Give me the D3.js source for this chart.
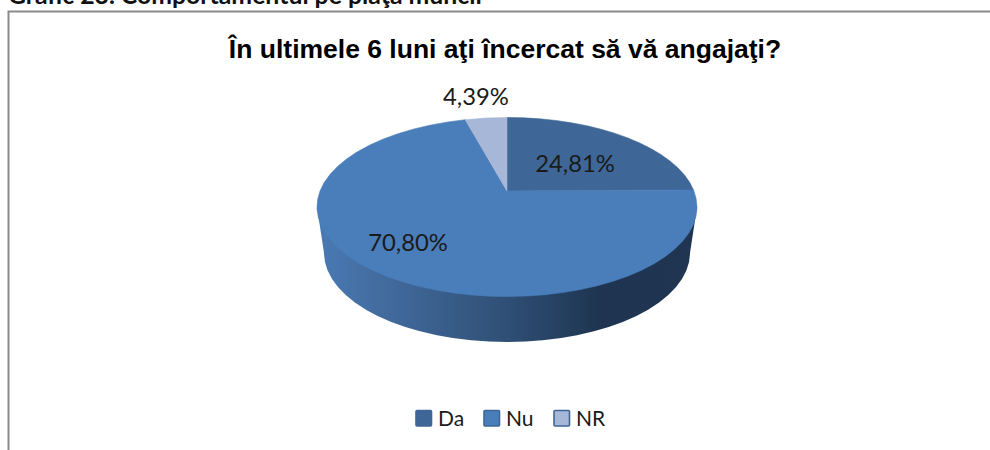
<!DOCTYPE html>
<html>
<head>
<meta charset="utf-8">
<script src="https://cdn.jsdelivr.net/npm/d3@7"></script>
<style>
html,body{margin:0;padding:0;background:#fff;overflow:hidden}
svg{display:block}
</style>
</head>
<body>
<svg id="c" width="990" height="450"></svg>
<script>
const categories = ["Da", "Nu", "NR"];
const values = [24.81, 70.80, 4.39];
const valueLabels = ["24,81%", "70,80%", "4,39%"];
const colors = ["#3e6797", "#4a7ebb", "#a7b7d7"];
const heading = "Grafic 23. Comportamentul pe piaţa muncii";
const chartTitle = "În ultimele 6 luni aţi încercat să vă angajaţi?";

const svg = d3.select("#c");
const body = "Lato, 'Open Sans', sans-serif";

// Frame and heading
svg.append("text").attr("x", 8).attr("y", 4).attr("font-family", body)
  .attr("font-weight", 700).attr("font-size", 24.8).attr("fill", "#111").text(heading);
svg.append("path").attr("d", "M8.5,450V11.5H990").attr("fill", "none")
  .attr("stroke", "#8a8a8a").attr("stroke-width", 2);

svg.append("text").attr("x", 505).attr("y", 57.5).attr("text-anchor", "middle")
  .attr("font-family", "'Liberation Sans', Arial, sans-serif").attr("font-weight", 700)
  .attr("font-size", 26.5).attr("fill", "#000").text(chartTitle);

// Pie geometry (perspective ellipse with off-centre apex)
const face = {cx: 507, cy: 207, rx: 190, ry: 89.5};
const bot = {cx: 507, cy: 253, rx: 183, ry: 89};
const apex = {x: 507, y: 191};
const squash = 2.07;

const arcs = d3.pie().sort(null).value(d => d)(values);

// Intersect a ray from the apex with the top ellipse
function rim(a) {
  const dx = Math.sin(a) * squash, dy = -Math.cos(a);
  const ox = apex.x - face.cx, oy = apex.y - face.cy;
  const A = dx * dx / (face.rx * face.rx) + dy * dy / (face.ry * face.ry);
  const B = 2 * (ox * dx / (face.rx * face.rx) + oy * dy / (face.ry * face.ry));
  const C = ox * ox / (face.rx * face.rx) + oy * oy / (face.ry * face.ry) - 1;
  const t = (-B + Math.sqrt(B * B - 4 * A * C)) / (2 * A);
  return [apex.x + t * dx, apex.y + t * dy];
}
function slicePath(d) {
  const p0 = rim(d.startAngle), p1 = rim(d.endAngle);
  const large = d.endAngle - d.startAngle > Math.PI * 1.05 ? 1 : 0;
  return `M${apex.x},${apex.y}L${p0[0]},${p0[1]}A${face.rx},${face.ry} 0 ${large} 1 ${p1[0]},${p1[1]}Z`;
}

// Side wall gradient
const defs = svg.append("defs");
const grad = defs.append("linearGradient").attr("id", "side")
  .attr("gradientUnits", "userSpaceOnUse")
  .attr("x1", face.cx - face.rx).attr("x2", face.cx + face.rx).attr("y1", 0).attr("y2", 0);
[[0, "#4a7ab4"], [0.2, "#41699b"], [0.5, "#2f4f75"], [0.75, "#1e3450"], [1, "#1f3552"]]
  .forEach(s => grad.append("stop").attr("offset", s[0]).attr("stop-color", s[1]));

svg.append("path")
  .attr("d", `M${face.cx - face.rx},${face.cy}L${bot.cx - bot.rx},${bot.cy}` +
    `A${bot.rx},${bot.ry} 0 0 0 ${bot.cx + bot.rx},${bot.cy}` +
    `L${face.cx + face.rx},${face.cy}Z`)
  .attr("fill", "url(#side)");

svg.append("g").selectAll("path").data(arcs).join("path")
  .attr("d", slicePath)
  .attr("fill", (d, i) => colors[i])
  .attr("stroke", (d, i) => colors[i]).attr("stroke-width", 0.6);

// Value labels
const labelAt = [[575, 172], [408, 251], [476, 104.5]];
svg.append("g").selectAll("text").data(valueLabels).join("text")
  .attr("x", (d, i) => labelAt[i][0]).attr("y", (d, i) => labelAt[i][1])
  .attr("text-anchor", "middle").attr("font-family", body)
  .attr("font-size", 23.8).attr("fill", "#1a1a1a").text(d => d);

// Legend
const legendX = [415.5, 483.5, 553.5];
const leg = svg.append("g").selectAll("g").data(categories).join("g")
  .attr("transform", (d, i) => `translate(${legendX[i]},410)`);
leg.append("rect").attr("x", 0.5).attr("y", 0.5).attr("width", 15.5).attr("height", 15.5).attr("rx", 1)
  .attr("fill", (d, i) => colors[i]).attr("stroke", "#3e6797").attr("stroke-width", 1.6);
leg.append("text").attr("x", 22.5).attr("y", 15.5).attr("font-family", body)
  .attr("font-size", 21).attr("fill", "#1a1a1a").text(d => d);
</script>
</body>
</html>
